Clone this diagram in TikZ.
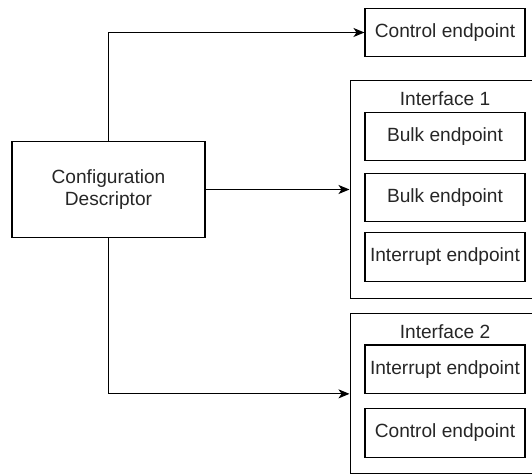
\documentclass[tikz,border=0pt]{standalone}
\usepackage{fontspec}
\setmainfont{Liberation Sans}
\usetikzlibrary{arrows.meta}
\begin{document}
\begin{tikzpicture}[x=1bp,y=-1bp,
  txt/.style={font=\fontsize{19.2}{22.3}\selectfont, text=black!85},
  box/.style={draw, line width=1.1bp, minimum width=160bp, minimum height=48.5bp, inner sep=0pt, txt},
  group/.style={draw, line width=1.1bp, inner sep=0pt, anchor=north west},
  conn/.style={line width=1.1bp, -{Stealth[length=11bp,width=9bp,inset=3bp]}}]
\useasboundingbox (0,0) rectangle (532,474);
\clip (0,0) rectangle (532,474);
% main descriptor
\node[draw, line width=1.1bp, minimum width=193bp, minimum height=96.4bp, inner sep=0pt, txt, align=center] (cfg) at (108.5,189.5) {Configuration\\Descriptor};
% top control endpoint
\node[box] (ctl0) at (445,32.5) {Control endpoint};
% interface 1
\node[group, minimum width=184bp, minimum height=217.5bp] (if1) at (349.5,80) {};
\node[txt] (if1lbl) at (445,99) {Interface 1};
\node[box] (bulk1) at (445,136.7) {Bulk endpoint};
\node[box] (bulk2) at (445,197.5) {Bulk endpoint};
\node[box] (int1) at (445,256.8) {Interrupt endpoint};
% interface 2
\node[group, minimum width=184bp, minimum height=160bp] (if2) at (349.5,313.3) {};
\node[txt] (if2lbl) at (445,332) {Interface 2};
\node[box] (int2) at (445,369.2) {Interrupt endpoint};
\node[box] (ctl2) at (445,432.8) {Control endpoint};
% connectors
\draw[conn] (cfg.north) |- (ctl0.west);
\draw[conn] (cfg.east) -- (cfg.east -| if1.west);
\draw[conn] (cfg.south) |- (if2.west);
\end{tikzpicture}
\end{document}
